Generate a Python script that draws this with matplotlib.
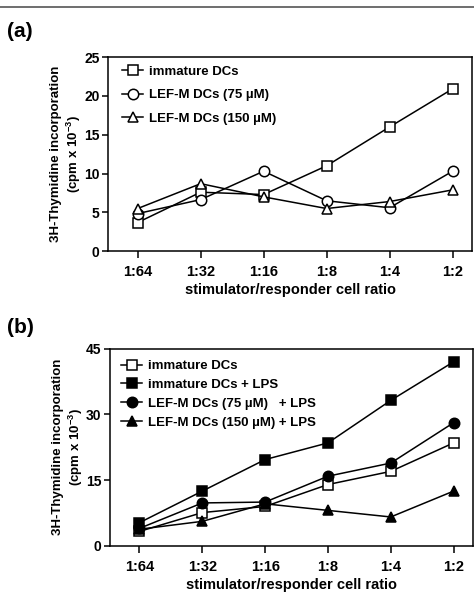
import numpy as np
import matplotlib
matplotlib.use("Agg")
import matplotlib.pyplot as plt
from matplotlib.lines import Line2D

plt.rcParams['font.family'] = ['Liberation Sans', 'DejaVu Sans']
plt.rcParams['font.weight'] = 'bold'
plt.rcParams['mathtext.fontset'] = 'custom'
plt.rcParams['mathtext.rm'] = 'Liberation Sans:bold'
plt.rcParams['mathtext.bf'] = 'Liberation Sans:bold'

ratios = ['1:64', '1:32', '1:16', '1:8', '1:4', '1:2']

# panel (a)
imm_a = [3.7, 7.6, 7.3, 11.0, 16.0, 20.9]
lef75_a = [4.85, 6.65, 10.3, 6.5, 5.6, 10.3]
lef150_a = [5.5, 8.7, 7.0, 5.5, 6.4, 7.9]

# panel (b)
imm_b = [3.3, 7.6, 9.0, 14.0, 17.0, 23.5]
imm_lps_b = [5.3, 12.5, 19.7, 23.5, 33.2, 42.0]
lef75_lps_b = [4.0, 9.8, 10.0, 15.9, 18.9, 28.1]
lef150_lps_b = [3.8, 5.6, 9.6, 8.1, 6.6, 12.5]

ylab = '3H-Thymidine incorporation\n(cpm x 10$^{-3}$)'
xlab = 'stimulator/responder cell ratio'

fig = plt.figure(figsize=(4.74, 5.94), dpi=100)
fig.add_artist(Line2D([0, 1], [0.988, 0.988], color='#555555', lw=1.2))

x = np.arange(len(ratios))
kw = dict(color='black', lw=1.1, ms=7.5, mew=1.1)


def style(ax, ymax, yticks):
    ax.set_xlim(-0.47, 5.31)
    ax.set_ylim(0, ymax)
    ax.set_xticks(x)
    ax.set_xticklabels(ratios, fontsize=10.5, fontweight='bold')
    ax.set_yticks(yticks)
    ax.tick_params(axis='y', labelsize=10, length=4, width=1.1, pad=2)
    ax.tick_params(axis='x', length=5, width=1.1, pad=5)
    for s in ax.spines.values():
        s.set_linewidth(1.1)
    ax.set_xlabel(xlab, fontsize=10.5, fontweight='bold', labelpad=3)
    ax.set_ylabel(ylab, fontsize=9.5, fontweight='bold', labelpad=1)


ax1 = fig.add_axes([0.228, 0.577, 0.768, 0.327])
ax1.plot(x, imm_a, marker='s', mfc='white', label='immature DCs', **kw)
ax1.plot(x, lef75_a, marker='o', mfc='white', label='LEF-M DCs (75 µM)', **kw)
ax1.plot(x, lef150_a, marker='^', mfc='white', label='LEF-M DCs (150 µM)', **kw)
style(ax1, 25, [0, 5, 10, 15, 20, 25])
ax1.legend(loc='upper left', bbox_to_anchor=(0.015, 1.0), frameon=False,
           handlelength=1.6, handletextpad=0.45, labelspacing=0.85,
           borderaxespad=0.25, prop={'weight': 'bold', 'size': 9.5})
fig.text(0.015, 0.947, '(a)', fontsize=15, fontweight='bold', va='center')

ax2 = fig.add_axes([0.232, 0.081, 0.766, 0.332])
ax2.plot(x, imm_b, marker='s', mfc='white', label='immature DCs', **kw)
ax2.plot(x, imm_lps_b, marker='s', mfc='black', label='immature DCs + LPS', **kw)
ax2.plot(x, lef75_lps_b, marker='o', mfc='black', label='LEF-M DCs (75 µM)   + LPS', **kw)
ax2.plot(x, lef150_lps_b, marker='^', mfc='black', label='LEF-M DCs (150 µM) + LPS', **kw)
style(ax2, 45, [0, 15, 30, 45])
ax2.legend(loc='upper left', bbox_to_anchor=(0.0, 1.0), frameon=False,
           handlelength=1.6, handletextpad=0.45, labelspacing=0.5,
           borderaxespad=0.45, prop={'weight': 'bold', 'size': 9.5})
fig.text(0.015, 0.449, '(b)', fontsize=15, fontweight='bold', va='center')

fig.savefig('out.png', dpi=100)
